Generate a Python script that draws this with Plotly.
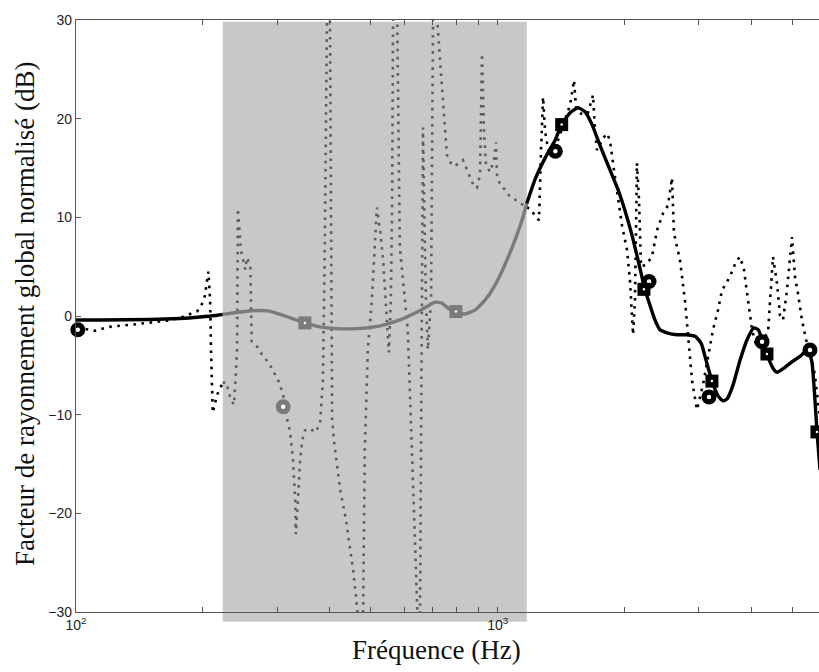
import numpy as np
import plotly.graph_objects as go

# ---------------- data (Hz, dB) ----------------
band_lo_hz = 222.8
band_hi_hz = 1172.0

model_f = [100, 114, 150, 176.5, 197, 214, 222, 245, 270, 288, 313, 349, 379, 423, 472, 526,
           586, 637, 683, 710, 738, 762, 796, 836, 883, 933, 985, 1040, 1099, 1142, 1172,
           1225, 1295, 1368, 1418, 1485, 1550, 1611, 1674, 1748, 1846, 1929, 2003, 2082,
           2151, 2234, 2296, 2360, 2425, 2520, 2662, 2811, 2950, 3040, 3120, 3223, 3330,
           3420, 3500, 3614, 3754, 3902, 4050, 4150, 4235, 4350, 4496, 4596, 4800, 5000,
           5209, 5442, 5562, 5654, 5716, 5812]
model_db = [-0.41, -0.41, -0.35, -0.25, -0.1, 0.05, 0.15, 0.4, 0.56, 0.5, 0.0, -0.7, -1.1,
            -1.3, -1.25, -1.0, -0.4, 0.3, 1.0, 1.4, 1.3, 0.8, 0.4, 0.2, 0.6, 1.6, 3.1, 5.2,
            7.7, 9.7, 11.4, 13.8, 16.0, 17.8, 19.4, 20.6, 21.1, 20.7, 19.4, 17.3, 14.8, 12.8,
            10.7, 8.2, 5.7, 2.7, 1.1, -0.4, -1.4, -1.7, -1.9, -1.9, -2.1, -2.8, -4.5, -6.6,
            -8.1, -8.6, -8.4, -7.0, -4.5, -2.4, -1.2, -1.4, -2.4, -3.9, -5.3, -5.7, -5.2,
            -4.6, -4.1, -3.4, -4.7, -8.5, -11.7, -15.6]

meas_f = [101, 105, 111, 120, 134, 150, 163, 176.5, 186, 194, 198, 202, 206, 208, 209, 210,
          211, 216, 222, 227, 233, 237, 241, 242, 246, 252, 254, 259, 260, 261, 270, 276,
          287, 295, 303, 310, 316, 322, 327, 331, 332, 336, 340, 344, 349, 359, 369, 379,
          385, 389, 394, 400, 403, 405, 409, 414, 423, 437, 446, 454, 461, 469, 479, 484,
          492, 503, 517, 526, 535, 543, 552, 558, 562, 565, 577, 586, 603, 612, 626, 647,
          654, 661, 665, 669, 676, 683, 695, 703, 714, 730, 741, 750, 758, 779, 792, 814,
          827, 846, 864, 879, 893, 908, 918, 928, 938, 959, 980, 991, 996, 1013, 1040,
          1069, 1099, 1129, 1161, 1172, 1193, 1225, 1253, 1267, 1281, 1295, 1317, 1353,
          1390, 1445, 1485, 1517, 1534, 1585, 1637, 1683, 1701, 1720, 1777, 1816, 1846,
          1887, 1929, 1971, 2026, 2059, 2094, 2116, 2139, 2163, 2187, 2248, 2322, 2387,
          2466, 2534, 2590, 2618, 2705, 2780, 2827, 2889, 2968, 3067, 3240, 3330, 3403,
          3554, 3674, 3754, 3837, 3922, 4009, 4098, 4235, 4375, 4422, 4496, 4596, 4670,
          4749, 4853, 4987, 5069, 5153, 5267, 5384, 5502, 5654, 5812]
meas_db = [-1.1, -1.3, -1.5, -1.1, -0.9, -0.7, -0.5, -0.2, 0.2, 0.5, 1.0, 2.0, 4.5, 1.6,
           -3.4, -7.5, -9.8, -8.0, -6.8, -6.7, -8.5, -9.0, -3.4, 10.9, 6.7, 4.7, 5.9, 5.2,
           1.6, -2.6, -3.2, -3.9, -4.8, -5.7, -6.7, -8.0, -10.3, -11.8, -14.6, -18.6,
           -22.1, -18.6, -14.6, -12.6, -11.6, -11.4, -11.8, -11.0, -6.5, 6.7, 32, 32, 1.6,
           -10.5, -12.6, -14.6, -17.6, -20.7, -23.2, -25.7, -28.3, -31.8, -31.8, -13.6,
           -3.4, 1.6, 11.0, 8.7, 5.7, 1.6, -3.7, 1.6, 11.8, 32, 32, 7.0, 1.6, -1.4, -13.6,
           -31.8, -31.8, 1.6, 19.1, 11.8, 1.6, -3.4, 1.6, 32, 32, 25.9, 21.9, 18.8, 16.3,
           15.3, 15.2, 15.6, 15.8, 14.8, 13.8, 13.1, 13.0, 14.3, 26.6, 18.8, 15.3, 14.6,
           15.8, 17.6, 14.3, 13.3, 12.8, 12.1, 11.8, 11.4, 11.2, 11.0, 10.9, 10.2, 9.7,
           16.8, 22.2, 18.8, 16.8, 16.8, 17.8, 19.9, 21.4, 23.9, 21.1, 20.4, 20.6, 22.4,
           18.8, 16.8, 18.0, 18.5, 17.8, 14.8, 11.8, 9.2, 6.7, 3.6, -1.9, 1.6, 15.5, 11.8,
           5.0, 5.2, 6.0, 8.7, 10.4, 11.2, 14.0, 8.4, 5.7, 1.6, -1.9, -6.5, -9.5, -7.0,
           -1.4, 0.6, 2.6, 4.0, 5.5, 6.0, 4.7, 1.6, -1.4, -2.9, -2.4, -1.7, 1.6, 6.0, 3.3,
           0.1, -0.4, 2.6, 8.0, 4.0, 2.3, -0.4, -2.4, -3.6, -6.0, -10.5]

circle_f = [101, 310, 1370, 2285, 3170, 4235, 5502]
circle_db = [-1.4, -9.2, 16.7, 3.5, -8.2, -2.6, -3.45]
square_f = [349, 796, 1418, 2222, 3221, 4350, 5716]
square_db = [-0.7, 0.45, 19.4, 2.7, -6.6, -3.85, -11.75]

x_ticks = [100, 200, 300, 400, 500, 600, 700, 800, 900, 1000, 2000, 3000, 4000, 5000]
x_ticktext = ["10<sup>2</sup>", " ", " ", " ", " ", " ", " ", " ", " ", "10<sup>3</sup>",
              " ", " ", " ", " "]
y_ticks = [-30, -20, -10, 0, 10, 20, 30]

# ---------------- styling ----------------
BLACK = "#000000"
GREY_LINE = "#7b7b7b"
GREY_DOT = "#5e5e5e"
BAND = "#c8c8c8"
X_MIN_LOG = 2.0
X_MAX_LOG = np.log10(5780)


def split_segments(f, y, lo, hi):
    """Split a curve at the band edges (log-x interpolation). Returns (left, mid, right)."""
    lf = np.log10(np.asarray(f, float))
    yy = np.asarray(y, float)
    edges = [np.log10(lo), np.log10(hi)]
    segs = [[], [], []]

    def region(v):
        return 0 if v < edges[0] else (1 if v <= edges[1] else 2)

    for i in range(len(lf)):
        r = region(lf[i])
        if i > 0:
            r0 = region(lf[i - 1])
            if r0 != r:
                for e_idx in range(r0, r):
                    e = edges[e_idx]
                    t = (e - lf[i - 1]) / (lf[i] - lf[i - 1])
                    ye = yy[i - 1] + t * (yy[i] - yy[i - 1])
                    segs[e_idx].append((10 ** e, ye))
                    segs[e_idx + 1].append((10 ** e, ye))
        segs[r].append((10 ** lf[i], yy[i]))
    out = []
    for s in segs:
        if s:
            a = np.array(s)
            out.append((a[:, 0], a[:, 1]))
        else:
            out.append(([], []))
    return out


fig = go.Figure()

# measured (dotted)
ml, mm, mr = split_segments(meas_f, meas_db, band_lo_hz, band_hi_hz)
for (xs, ys), col in zip([ml, mm, mr], [BLACK, GREY_DOT, BLACK]):
    fig.add_trace(go.Scatter(x=xs, y=ys, mode="lines",
                             line=dict(color=col, width=2.6, dash="2.6px,5.5px"),
                             hoverinfo="skip"))

# model (solid)
sl, sm, sr = split_segments(model_f, model_db, band_lo_hz, band_hi_hz)
for (xs, ys), col in zip([sl, sm, sr], [BLACK, GREY_LINE, BLACK]):
    fig.add_trace(go.Scatter(x=xs, y=ys, mode="lines",
                             line=dict(color=col, width=3.4, shape="spline", smoothing=0.5),
                             hoverinfo="skip"))


def in_band(v):
    return band_lo_hz <= v <= band_hi_hz


circ_col = [GREY_LINE if in_band(v) else BLACK for v in circle_f]
sq_col = [GREY_LINE if in_band(v) else BLACK for v in square_f]

fig.add_trace(go.Scatter(x=circle_f, y=circle_db, mode="markers",
                         marker=dict(symbol="circle", size=15, color=circ_col, line=dict(width=0)),
                         cliponaxis=False, hoverinfo="skip"))
fig.add_trace(go.Scatter(x=circle_f, y=circle_db, mode="markers",
                         marker=dict(symbol="circle", size=4.5, color="white", line=dict(width=0)),
                         cliponaxis=False, hoverinfo="skip"))
fig.add_trace(go.Scatter(x=square_f, y=square_db, mode="markers",
                         marker=dict(symbol="square", size=13, color=sq_col, line=dict(width=0)),
                         cliponaxis=False, hoverinfo="skip"))
fig.add_trace(go.Scatter(x=square_f, y=square_db, mode="markers",
                         marker=dict(symbol="circle", size=2.5, color="white", line=dict(width=0)),
                         cliponaxis=False, hoverinfo="skip"))


def to_paper_x(hz):
    return (np.log10(hz) - X_MIN_LOG) / (X_MAX_LOG - X_MIN_LOG)


fig.add_shape(type="rect", xref="paper", yref="paper",
              x0=to_paper_x(band_lo_hz), x1=to_paper_x(band_hi_hz),
              y0=-0.0165, y1=0.997, fillcolor=BAND, line=dict(width=0), layer="below")

tick_font = dict(family="Liberation Sans, Arial, sans-serif", size=14, color="#222222")
axis_common = dict(showline=True, linecolor="#555555", linewidth=1.3, ticks="inside",
                   ticklen=5, tickcolor="#555555", tickwidth=1, showgrid=False,
                   zeroline=False, tickfont=tick_font)

fig.update_xaxes(type="log", range=[X_MIN_LOG, X_MAX_LOG], tickmode="array",
                 tickvals=x_ticks, ticktext=x_ticktext, mirror="ticks", **axis_common)
fig.update_yaxes(range=[-30, 30], tickmode="array", tickvals=y_ticks, **axis_common)

# plot area spans page x 76..819, y 20..612 (body margin removed below)
L, T, B = 76, 20, 60
W, H = 819, 672
PW, PH = W - L, H - T - B

serif = dict(family="Liberation Serif, Times New Roman, serif", size=27, color="#111111")
fig.add_annotation(text="Facteur de rayonnement global normalisé (dB)", textangle=-90,
                   xref="paper", yref="paper", x=(25 - L) / PW, y=(612 - 314) / PH,
                   xanchor="center", yanchor="middle", showarrow=False, font=serif)
fig.add_annotation(text="Fréquence (Hz)", xref="paper", yref="paper",
                   x=(436 - L) / PW, y=(612 - 650) / PH,
                   xanchor="center", yanchor="middle", showarrow=False, font=serif)

fig.update_layout(width=W, height=H, margin=dict(l=L, r=0, t=T, b=B),
                  paper_bgcolor="white", plot_bgcolor="white", showlegend=False)

fig.write_html("out.html", config={"displayModeBar": False},
               post_script="document.body.style.margin='0';"
                           "document.body.style.overflow='hidden';")
